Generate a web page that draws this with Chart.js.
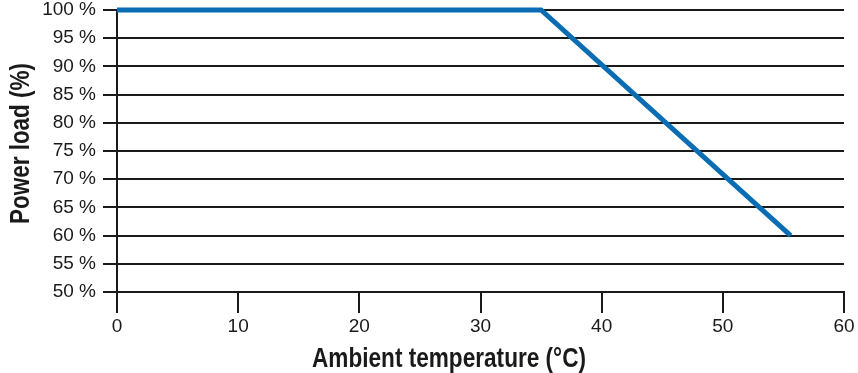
<!DOCTYPE html>
<html lang="en">
<head>
    <meta charset="UTF-8">
    <title>Power load derating</title>
    <script src="https://cdn.jsdelivr.net/npm/chart.js"></script>
    <style>
        html, body { margin: 0; padding: 0; background: #fff; }
        #wrap { width: 858px; height: 373px; }
    </style>
</head>
<body>
    <div id="wrap"><canvas id="derating-chart"></canvas></div>

    <script>
        // Derating curve
        const temperatures = [0, 35, 55.6];
        const powerLoads = [100, 100, 60];

        // Axis setup
        const xTitle = 'Ambient temperature (°C)';
        const yTitle = 'Power load (%)';
        const xMin = 0, xMax = 60, xStep = 10;
        const yMin = 50, yMax = 100, yStep = 5;

        const INK = '#1a1a1a';
        const tickFont = { family: '"Liberation Sans", Arial, sans-serif', size: 19 };

        // axis titles: bold, squeezed to look like the condensed face of the original
        function condensedText(ctx, text, width) {
            const w = ctx.measureText(text).width;
            ctx.save();
            ctx.scale(width / w, 1);
            ctx.fillText(text, 0, 0);
            ctx.restore();
        }

        const axisTitles = {
            id: 'axisTitles',
            afterDraw(chart) {
                const ctx = chart.ctx;
                ctx.save();
                ctx.fillStyle = INK;
                ctx.font = 'bold 27px "Liberation Sans", Arial, sans-serif';
                ctx.textAlign = 'center';
                ctx.textBaseline = 'alphabetic';
                ctx.save();
                ctx.translate(449, 367);
                condensedText(ctx, xTitle, 274);
                ctx.restore();
                ctx.translate(29, 143.5);
                ctx.rotate(-Math.PI / 2);
                condensedText(ctx, yTitle, 161);
                ctx.restore();
            }
        };

        const ctx = document.getElementById('derating-chart').getContext('2d');
        new Chart(ctx, {
            type: 'line',
            data: {
                datasets: [{
                    data: temperatures.map((t, i) => ({ x: t, y: powerLoads[i] })),
                    borderColor: '#0a6db4',
                    borderWidth: 5,
                    pointRadius: 0,
                    fill: false,
                    tension: 0,
                    clip: false
                }]
            },
            options: {
                responsive: true,
                maintainAspectRatio: false,
                animation: false,
                layout: { padding: { top: 10, right: 14, left: 0, bottom: 0 } },
                plugins: {
                    legend: { display: false },
                    tooltip: { enabled: false }
                },
                scales: {
                    x: {
                        type: 'linear',
                        min: xMin,
                        max: xMax,
                        ticks: { stepSize: xStep, color: INK, font: tickFont, padding: 2, maxRotation: 0, autoSkip: false },
                        grid: { drawOnChartArea: false, color: INK, lineWidth: 2, tickLength: 21 },
                        border: { display: true, color: INK, width: 2 },
                        afterFit(s) { s.height = 81; s.paddingLeft = 0; s.paddingRight = 0; }
                    },
                    y: {
                        min: yMin,
                        max: yMax,
                        ticks: {
                            stepSize: yStep,
                            color: INK,
                            font: tickFont,
                            padding: 7,
                            autoSkip: false,
                            callback: v => v + ' %'
                        },
                        grid: { color: INK, lineWidth: 2, tickLength: 14 },
                        border: { display: true, color: INK, width: 2 },
                        afterFit(s) { s.width = 117; s.paddingTop = 0; s.paddingBottom = 0; }
                    }
                }
            },
            plugins: [axisTitles]
        });
    </script>
</body>
</html>
